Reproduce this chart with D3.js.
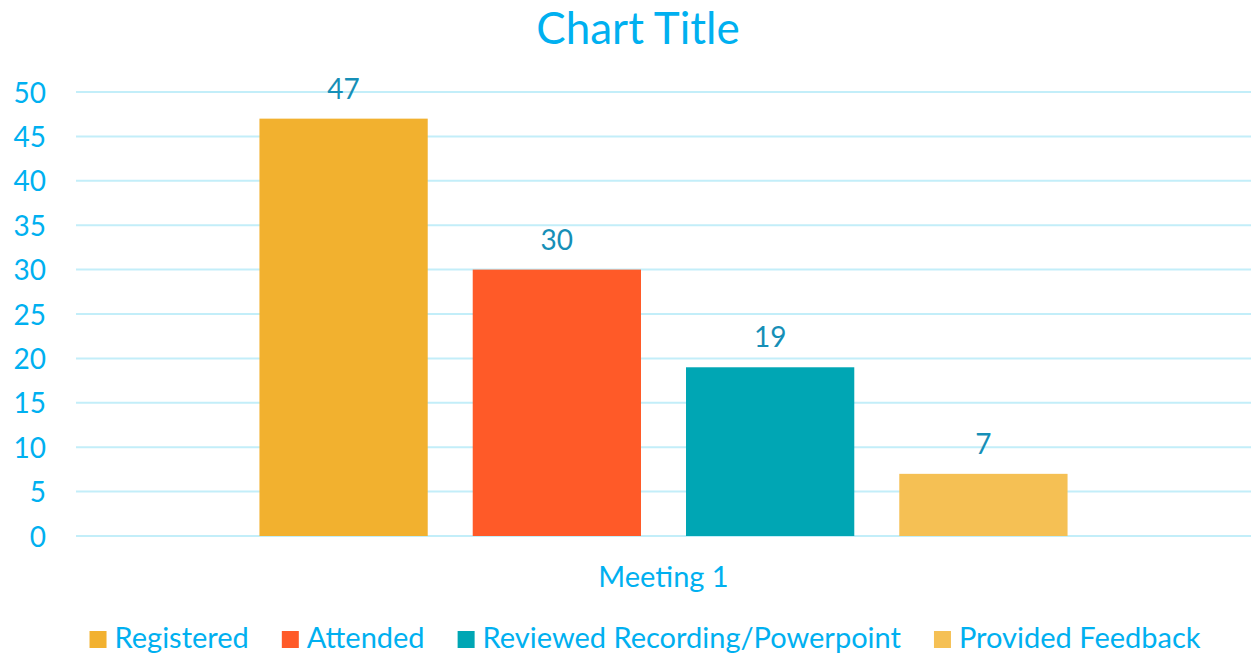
<!DOCTYPE html>
<html>
<head>
<meta charset="utf-8">
<script src="https://cdn.jsdelivr.net/npm/d3@7"></script>
<style>
  html, body { margin: 0; padding: 0; background: #fff; }
  svg { display: block; font-family: Lato, "Open Sans", sans-serif; }
</style>
</head>
<body>
<svg id="chart" width="1251" height="653"></svg>
<script>
var categories = ['Meeting 1'];
var seriesNames = ['Registered', 'Attended', 'Reviewed Recording/Powerpoint', 'Provided Feedback'];
var seriesValues = [47, 30, 19, 7];
var seriesColors = ['#f2b12f', '#ff5a28', '#00a6b4', '#f5c054'];
var yTicks = [0, 5, 10, 15, 20, 25, 30, 35, 40, 45, 50];

var width = 1251, height = 653;
var margin = { left: 76, right: 0, top: 92, bottom: 117 };

var svg = d3.select('#chart');

var x0 = d3.scaleBand()
  .domain(categories)
  .range([margin.left, width - margin.right])
  .paddingInner(0)
  .paddingOuter(0.227);

var x1 = d3.scaleBand()
  .domain(seriesNames)
  .range([0, x0.bandwidth()])
  .paddingInner(0.211)
  .paddingOuter(0);

var y = d3.scaleLinear()
  .domain([0, 50])
  .range([height - margin.bottom, margin.top]);

// gridlines
svg.append('g')
  .selectAll('line')
  .data(yTicks)
  .enter()
  .append('line')
  .attr('x1', margin.left)
  .attr('x2', width - margin.right)
  .attr('y1', function(d) { return y(d); })
  .attr('y2', function(d) { return y(d); })
  .attr('stroke', '#c3eef9')
  .attr('stroke-width', 2);

// y axis labels
var yAxis = d3.axisLeft(y).tickValues(yTicks).tickSize(0).tickPadding(0);
var yg = svg.append('g')
  .attr('transform', 'translate(46,0)')
  .call(yAxis);
yg.select('.domain').remove();
yg.selectAll('text')
  .attr('fill', '#00b0f0')
  .attr('font-size', 28)
  .attr('font-family', 'Lato, sans-serif')
  .attr('dy', '0.36em');

// bars
var bars = svg.append('g')
  .selectAll('g')
  .data(categories)
  .enter()
  .append('g')
  .attr('transform', function(d) { return 'translate(' + x0(d) + ',0)'; });

bars.selectAll('rect')
  .data(seriesNames.map(function(n, i) { return { name: n, value: seriesValues[i], color: seriesColors[i] }; }))
  .enter()
  .append('rect')
  .attr('x', function(d) { return x1(d.name); })
  .attr('y', function(d) { return y(d.value); })
  .attr('width', x1.bandwidth())
  .attr('height', function(d) { return y(0) - y(d.value); })
  .attr('fill', function(d) { return d.color; });

bars.selectAll('text')
  .data(seriesNames.map(function(n, i) { return { name: n, value: seriesValues[i] }; }))
  .enter()
  .append('text')
  .attr('x', function(d) { return x1(d.name) + x1.bandwidth() / 2; })
  .attr('y', function(d) { return y(d.value) - 20; })
  .attr('text-anchor', 'middle')
  .attr('fill', '#168fb7')
  .attr('font-size', 28)
  .text(function(d) { return d.value; });

// category label
svg.append('g')
  .selectAll('text')
  .data(categories)
  .enter()
  .append('text')
  .attr('x', function(d) { return x0(d) + x0.bandwidth() / 2; })
  .attr('y', 587)
  .attr('text-anchor', 'middle')
  .attr('fill', '#00b0f0')
  .attr('font-size', 29)
  .text(function(d) { return d; });

// title
svg.append('text')
  .attr('x', 638)
  .attr('y', 44)
  .attr('text-anchor', 'middle')
  .attr('fill', '#00b0f0')
  .attr('font-size', 44)
  .text('Chart Title');

// legend
var legend = svg.append('g');
var cursor = 0;
seriesNames.forEach(function(n, i) {
  var item = legend.append('g').attr('transform', 'translate(' + cursor + ',0)');
  item.append('rect')
    .attr('x', 0)
    .attr('y', -17)
    .attr('width', 17)
    .attr('height', 17)
    .attr('fill', seriesColors[i]);
  var t = item.append('text')
    .attr('x', 25)
    .attr('y', 0)
    .attr('fill', '#00b0f0')
    .attr('font-size', 29)
    .text(n);
  cursor += 25 + t.node().getComputedTextLength() + 33;
});
var legendWidth = cursor - 33;
legend.attr('transform', 'translate(' + (645 - legendWidth / 2) + ',648)');
</script>
</body>
</html>
